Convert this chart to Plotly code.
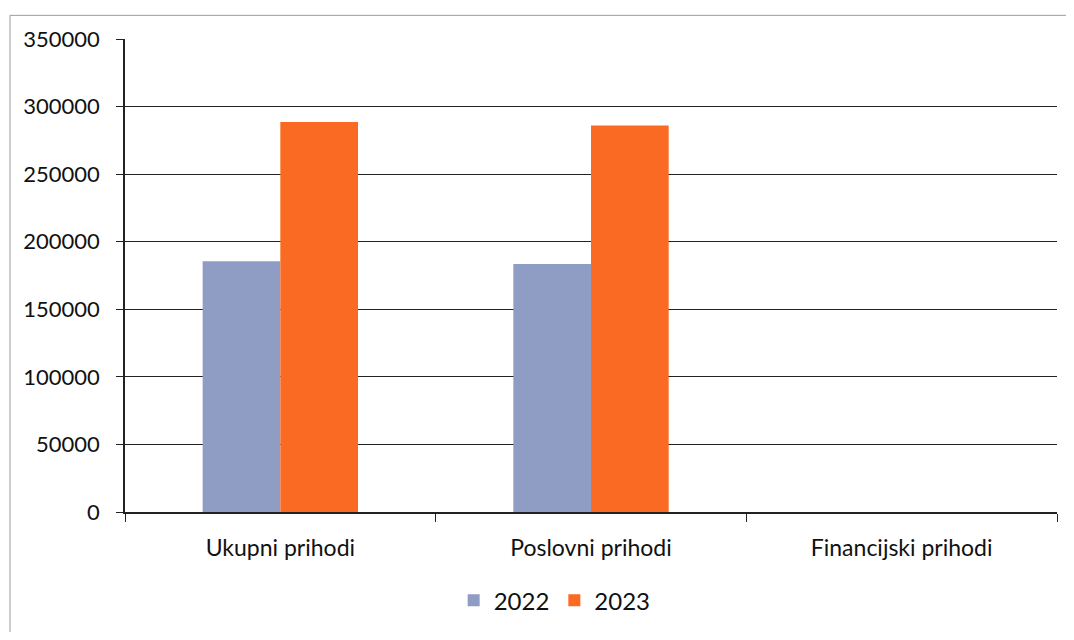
import plotly.graph_objects as go

categories = ["Ukupni prihodi", "Poslovni prihodi", "Financijski prihodi"]
series_names = ["2022", "2023"]
values_2022 = [185500, 183500, 0]
values_2023 = [288500, 286000, 0]
y_ticks = [0, 50000, 100000, 150000, 200000, 250000, 300000, 350000]

colors = {"2022": "#8f9cc3", "2023": "#fb6a22"}
font_family = "Lato, Carlito, 'Open Sans', sans-serif"

fig = go.Figure()
for name, vals in zip(series_names, [values_2022, values_2023]):
    fig.add_trace(go.Bar(x=categories, y=vals, name=name,
                         marker=dict(color=colors[name], line=dict(width=0))))

fig.update_layout(
    width=1058, height=624,
    margin=dict(l=117, r=9, t=31, b=113),
    paper_bgcolor="white", plot_bgcolor="white",
    barmode="group", bargap=0.5, bargroupgap=0,
    font=dict(family=font_family, size=22, color="#111111"),
    showlegend=True,
    legend=dict(orientation="h", x=0.461, xanchor="center", y=-0.1875, yanchor="middle",
                font=dict(size=24), itemwidth=30, traceorder="normal"),
    xaxis=dict(showline=True, linecolor="#222222", linewidth=1.5,
               ticks="outside", tickson="boundaries", ticklen=8, tickcolor="#222222",
               tickfont=dict(size=23), ticklabelstandoff=15, showgrid=False),
    yaxis=dict(range=[0, 350000], tickvals=y_ticks, ticktext=[str(v) for v in y_ticks],
               showline=True, linecolor="#222222", linewidth=1.5,
               ticks="outside", ticklen=7, tickcolor="#222222",
               showgrid=True, gridcolor="#222222", gridwidth=1.2,
               tickfont=dict(size=22), ticklabelstandoff=12, zeroline=False),
)

fig.add_shape(type="rect", xref="paper", yref="paper",
              x0=-0.1234, x1=1.03, y0=-0.26, y1=1.05,
              line=dict(color="#9a9a9a", width=1), layer="below")

fig.write_html("out.html")
